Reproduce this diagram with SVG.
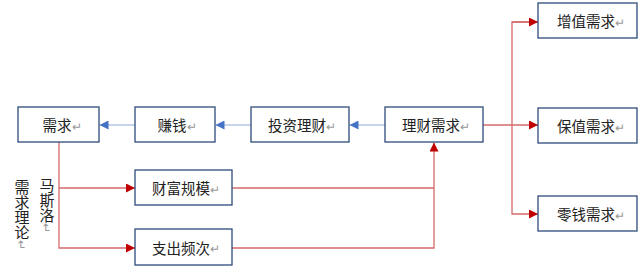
<svg xmlns="http://www.w3.org/2000/svg" width="640" height="269" viewBox="0 0 640 269">
<style>
.box{fill:#fff;stroke:#2f4b7c;stroke-width:1.3}
.t{font-family:"Noto Sans CJK SC","Noto Sans",sans-serif;font-size:14.5px;fill:#222;text-anchor:middle;dominant-baseline:central}
.r{fill:#999;font-size:12px}
.blue{stroke:#8eaadb;stroke-width:1.2;fill:none}
.red{stroke:#d46a6a;stroke-width:1.3;fill:none}
.v{font-family:"Noto Sans CJK SC","Noto Sans",sans-serif;font-size:15px;fill:#222;writing-mode:vertical-rl}
</style>
<defs>
<marker id="ab" markerWidth="9" markerHeight="9" refX="9" refY="4.5" orient="auto" markerUnits="userSpaceOnUse"><path d="M0,0 L9,4.5 L0,9 Z" fill="#4472c4"/></marker>
<marker id="ar" markerWidth="9" markerHeight="9" refX="9" refY="4.5" orient="auto" markerUnits="userSpaceOnUse"><path d="M0,0 L9,4.5 L0,9 Z" fill="#c00000"/></marker>
</defs>
<g id="connectors">
<line class="blue" x1="135" y1="125" x2="99.5" y2="125" marker-end="url(#ab)"/>
<line class="blue" x1="251" y1="125" x2="215.5" y2="125" marker-end="url(#ab)"/>
<line class="blue" x1="385" y1="125" x2="349.5" y2="125" marker-end="url(#ab)"/>
<polyline class="red" points="59,142 59,248 135,248" marker-end="url(#ar)"/>
<line class="red" x1="59" y1="188" x2="135" y2="188" marker-end="url(#ar)"/>
<polyline class="red" points="232,188 434,188"/>
<polyline class="red" points="232,248 434,248 434,142.5" marker-end="url(#ar)"/>
<line class="red" x1="483" y1="125" x2="538" y2="125" marker-end="url(#ar)"/>
<polyline class="red" points="538,22 512,22 512,214 538,214" marker-end="url(#ar)"/>
<line class="red" x1="512" y1="22" x2="538" y2="22" marker-end="url(#ar)"/>
</g>
<g id="n-xuqiu"><rect class="box" x="18" y="107" width="81" height="35"/><text class="t" x="62" y="124.5">需求<tspan class="r">↵</tspan></text></g>
<g id="n-zhuanqian"><rect class="box" x="135" y="107" width="80" height="35"/><text class="t" x="177" y="124.5">赚钱<tspan class="r">↵</tspan></text></g>
<g id="n-touzi"><rect class="box" x="251" y="107" width="98" height="35"/><text class="t" x="302" y="124.5">投资理财<tspan class="r">↵</tspan></text></g>
<g id="n-licai"><rect class="box" x="385" y="107" width="98" height="35"/><text class="t" x="436" y="124.5">理财需求<tspan class="r">↵</tspan></text></g>
<g id="n-caifu"><rect class="box" x="135" y="170" width="97" height="35"/><text class="t" x="186" y="187.5">财富规模<tspan class="r">↵</tspan></text></g>
<g id="n-zhichu"><rect class="box" x="135" y="229" width="97" height="36"/><text class="t" x="186" y="247">支出频次<tspan class="r">↵</tspan></text></g>
<g id="n-zengzhi"><rect class="box" x="538" y="3" width="99" height="35"/><text class="t" x="591" y="20.5">增值需求<tspan class="r">↵</tspan></text></g>
<g id="n-baozhi"><rect class="box" x="538" y="108" width="99" height="35"/><text class="t" x="591" y="125.5">保值需求<tspan class="r">↵</tspan></text></g>
<g id="n-lingqian"><rect class="box" x="538" y="196" width="99" height="35"/><text class="t" x="591" y="213.5">零钱需求<tspan class="r">↵</tspan></text></g>
<g id="label-masiluo"><text class="v" x="47" y="178">马斯洛<tspan class="r">↵</tspan></text></g>
<g id="label-lilun"><text class="v" x="22" y="180">需求理论<tspan class="r">↵</tspan></text></g>
</svg>
